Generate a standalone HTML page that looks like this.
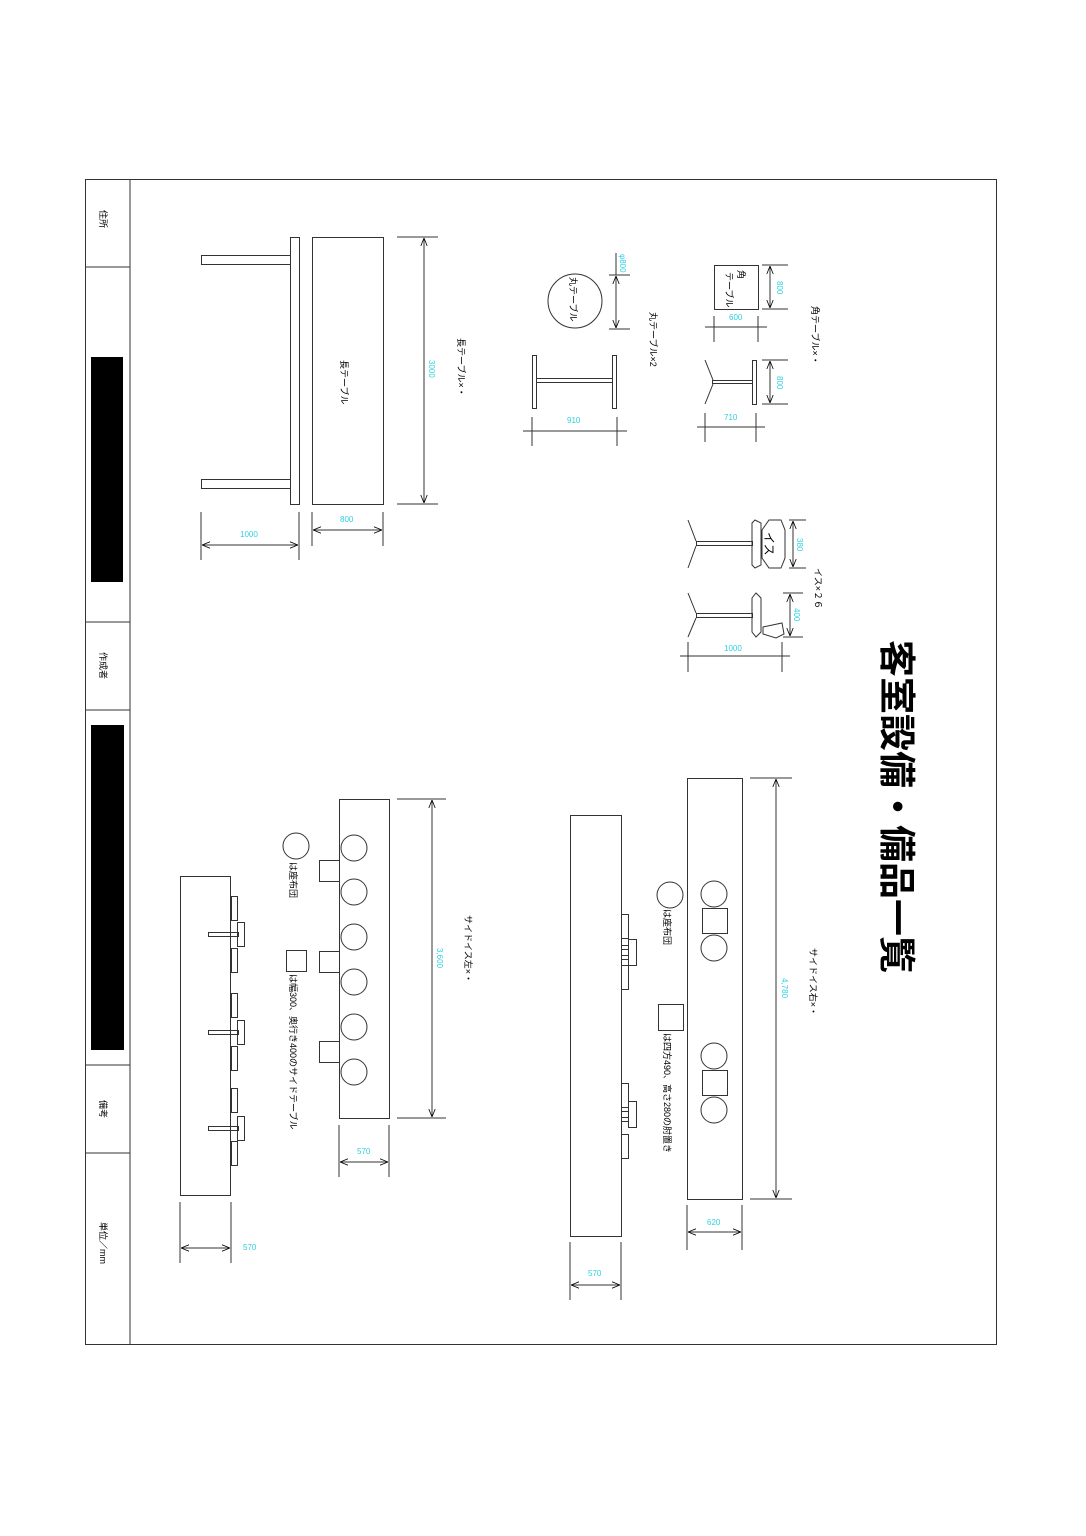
<!DOCTYPE html>
<html><head><meta charset="utf-8"><style>
html,body{margin:0;padding:0;background:#fff}
svg{display:block}
text{font-family:"Liberation Sans","Noto Sans CJK JP",sans-serif}
.c{fill:#2fd0e0;font-size:8px}
.t{fill:#000;font-size:9px}
</style></head><body>
<svg width="1086" height="1536" viewBox="0 0 1086 1536" xmlns="http://www.w3.org/2000/svg">
<defs>
<marker id="a" viewBox="0 0 10 10" refX="10" refY="5" markerWidth="8" markerHeight="8" orient="auto-start-reverse"><path d="M0,1 L10,5 L0,9" fill="none" stroke="#000" stroke-width="1"/></marker>
</defs>
<g fill="none" stroke="#333" stroke-width="1">
<rect x="85.5" y="179.5" width="911" height="1165"/>
<line x1="130" y1="179" x2="130" y2="1345"/>
<line x1="85" y1="267" x2="130" y2="267"/>
<line x1="85" y1="622" x2="130" y2="622"/>
<line x1="85" y1="710" x2="130" y2="710"/>
<line x1="85" y1="1065" x2="130" y2="1065"/>
<line x1="85" y1="1153" x2="130" y2="1153"/>
</g>
<rect x="91" y="357" width="32" height="225" fill="#000"/>
<rect x="91" y="725" width="33" height="325" fill="#000"/>
<g class="t">
<text transform="translate(100,210) rotate(90)">住所</text>
<text transform="translate(100,652) rotate(90)">作成者</text>
<text transform="translate(100,1100) rotate(90)">備考</text>
<text transform="translate(100,1222) rotate(90)">単位／mm</text>
</g>
<text transform="translate(884,640) rotate(90)" font-size="37" font-weight="bold" fill="#000">客室設備・備品一覧</text>

<g fill="none" stroke="#333" stroke-width="1">
<!-- long table -->
<rect x="201.5" y="255.5" width="89" height="9"/>
<rect x="201.5" y="479.5" width="89" height="9"/>
<rect x="290.5" y="237.5" width="9" height="267"/>
<rect x="312.5" y="237.5" width="71" height="267"/>
<line x1="397" y1="237" x2="438" y2="237"/><line x1="397" y1="504" x2="438" y2="504"/>
<line x1="424" y1="238" x2="424" y2="503" marker-start="url(#a)" marker-end="url(#a)"/>
<line x1="201" y1="512" x2="201" y2="560"/><line x1="299" y1="512" x2="299" y2="560"/>
<line x1="202" y1="545" x2="298" y2="545" marker-start="url(#a)" marker-end="url(#a)"/>
<line x1="312" y1="512" x2="312" y2="546"/><line x1="383" y1="512" x2="383" y2="546"/>
<line x1="313" y1="530" x2="382" y2="530" marker-start="url(#a)" marker-end="url(#a)"/>
<!-- round table -->
<circle cx="575" cy="301" r="27"/>
<line x1="609" y1="275" x2="630" y2="275"/><line x1="609" y1="329" x2="630" y2="329"/>
<line x1="616" y1="253" x2="616" y2="275"/>
<line x1="616" y1="276" x2="616" y2="328" marker-start="url(#a)" marker-end="url(#a)"/>
<rect x="532.5" y="355.5" width="4" height="53"/>
<rect x="612.5" y="355.5" width="4" height="53"/>
<rect x="536.5" y="378.5" width="76" height="4"/>
<line x1="532" y1="417" x2="532" y2="446"/><line x1="617" y1="417" x2="617" y2="446"/>
<line x1="523" y1="431" x2="627" y2="431"/>
<!-- square table -->
<rect x="714.5" y="265.5" width="44" height="44"/>
<line x1="762" y1="265" x2="788" y2="265"/><line x1="762" y1="309" x2="788" y2="309"/>
<line x1="770" y1="266" x2="770" y2="308" marker-start="url(#a)" marker-end="url(#a)"/>
<line x1="714" y1="316" x2="714" y2="342"/><line x1="758" y1="316" x2="758" y2="342"/>
<line x1="705" y1="327" x2="767" y2="327"/>
<rect x="752.5" y="360.5" width="4" height="44"/>
<rect x="712.5" y="380.5" width="40" height="3"/>
<path d="M705,360 L713,380 M713,384 L705,404"/>
<line x1="762" y1="360" x2="788" y2="360"/><line x1="762" y1="404" x2="788" y2="404"/>
<line x1="770" y1="361" x2="770" y2="403" marker-start="url(#a)" marker-end="url(#a)"/>
<line x1="705" y1="413" x2="705" y2="442"/><line x1="756" y1="413" x2="756" y2="442"/>
<line x1="697" y1="427" x2="765" y2="427"/>
<!-- chairs -->
<path d="M688,520 L696,541 M696,546 L688,568"/>
<rect x="696.5" y="541.5" width="56" height="4"/>
<path d="M755,520 L761,523 L761,565 L755,568 L752,565 L752,523 Z"/>
<path d="M769,520 L781,520 L785,530 L785,558 L781,568 L769,568 L762,558 L762,530 Z"/>
<line x1="789" y1="520" x2="806" y2="520"/><line x1="789" y1="568" x2="806" y2="568"/>
<line x1="793" y1="521" x2="793" y2="567" marker-start="url(#a)" marker-end="url(#a)"/>
<path d="M688,593 L696,613 M696,618 L688,637"/>
<rect x="696.5" y="613.5" width="56" height="4"/>
<path d="M756,593 L761,598 L761,632 L756,637 L752,632 L752,598 Z"/>
<path d="M763,627 L782,623 L784,634 L776,638 L763,634 Z"/>
<line x1="783" y1="593" x2="803" y2="593"/><line x1="783" y1="637" x2="803" y2="637"/>
<line x1="790" y1="594" x2="790" y2="636" marker-start="url(#a)" marker-end="url(#a)"/>
<line x1="688" y1="642" x2="688" y2="672"/><line x1="782" y1="642" x2="782" y2="672"/>
<line x1="680" y1="656" x2="790" y2="656"/>
<!-- left side -->
<rect x="339.5" y="799.5" width="50" height="319"/>
<circle cx="354" cy="848" r="13"/><circle cx="354" cy="892" r="13"/><circle cx="354" cy="937" r="13"/>
<circle cx="354" cy="982" r="13"/><circle cx="354" cy="1027" r="13"/><circle cx="354" cy="1072" r="13"/>
<rect x="319.5" y="860.5" width="20" height="21"/><rect x="319.5" y="951.5" width="20" height="21"/><rect x="319.5" y="1041.5" width="20" height="21"/>
<line x1="397" y1="799" x2="446" y2="799"/><line x1="397" y1="1118" x2="446" y2="1118"/>
<line x1="432" y1="800" x2="432" y2="1117" marker-start="url(#a)" marker-end="url(#a)"/>
<line x1="339" y1="1125" x2="339" y2="1177"/><line x1="389" y1="1125" x2="389" y2="1177"/>
<line x1="340" y1="1162" x2="388" y2="1162" marker-start="url(#a)" marker-end="url(#a)"/>
<circle cx="296" cy="846" r="13"/>
<rect x="286.5" y="950.5" width="20" height="21"/>
<rect x="180.5" y="876.5" width="50" height="319"/>
<rect x="231.5" y="896.5" width="6" height="24"/><rect x="231.5" y="948.5" width="6" height="24"/>
<rect x="231.5" y="993.5" width="6" height="24"/><rect x="231.5" y="1046.5" width="6" height="24"/>
<rect x="231.5" y="1088.5" width="6" height="24"/><rect x="231.5" y="1141.5" width="6" height="24"/>
<rect x="237.5" y="922.5" width="7" height="24"/><rect x="237.5" y="1020.5" width="7" height="24"/><rect x="237.5" y="1116.5" width="7" height="24"/>
<rect x="208.5" y="932.5" width="30" height="4"/><rect x="208.5" y="1030.5" width="30" height="4"/><rect x="208.5" y="1126.5" width="30" height="4"/>
<line x1="180" y1="1202" x2="180" y2="1263"/><line x1="231" y1="1202" x2="231" y2="1263"/>
<line x1="181" y1="1248" x2="230" y2="1248" marker-start="url(#a)" marker-end="url(#a)"/>
<!-- right side -->
<rect x="687.5" y="778.5" width="55" height="421"/>
<circle cx="714" cy="894" r="13"/><circle cx="714" cy="948" r="13"/><circle cx="714" cy="1056" r="13"/><circle cx="714" cy="1110" r="13"/>
<rect x="702.5" y="908.5" width="25" height="25"/><rect x="702.5" y="1070.5" width="25" height="25"/>
<line x1="750" y1="778" x2="792" y2="778"/><line x1="750" y1="1199" x2="792" y2="1199"/>
<line x1="776" y1="779" x2="776" y2="1198" marker-start="url(#a)" marker-end="url(#a)"/>
<line x1="687" y1="1205" x2="687" y2="1250"/><line x1="742" y1="1205" x2="742" y2="1250"/>
<line x1="688" y1="1232" x2="741" y2="1232" marker-start="url(#a)" marker-end="url(#a)"/>
<circle cx="670" cy="895" r="13"/>
<rect x="658.5" y="1004.5" width="25" height="26"/>
<rect x="570.5" y="815.5" width="51" height="421"/>
<rect x="621.5" y="914.5" width="7" height="24"/><rect x="621.5" y="965.5" width="7" height="24"/>
<rect x="621.5" y="1083.5" width="7" height="24"/><rect x="621.5" y="1134.5" width="7" height="24"/>
<rect x="628.5" y="939.5" width="8" height="26"/><rect x="628.5" y="1101.5" width="8" height="26"/>
<rect x="621.5" y="945.5" width="7" height="4"/><rect x="621.5" y="955.5" width="7" height="4"/>
<rect x="621.5" y="1107.5" width="7" height="4"/><rect x="621.5" y="1117.5" width="7" height="4"/>
<line x1="570" y1="1242" x2="570" y2="1300"/><line x1="621" y1="1242" x2="621" y2="1300"/>
<line x1="571" y1="1285" x2="620" y2="1285" marker-start="url(#a)" marker-end="url(#a)"/>
</g>

<g class="c">
<text transform="translate(429,360) rotate(90)">3000</text>
<text x="240" y="537">1000</text>
<text x="340" y="522">800</text>
<text transform="translate(620,254) rotate(90)">φ800</text>
<text x="567" y="423">910</text>
<text x="729" y="320">600</text>
<text transform="translate(777,281) rotate(90)">800</text>
<text transform="translate(777,376) rotate(90)">800</text>
<text x="724" y="420">710</text>
<text transform="translate(797,538) rotate(90)">380</text>
<text transform="translate(794,608) rotate(90)">400</text>
<text x="724" y="651">1000</text>
<text transform="translate(437,948) rotate(90)">3,600</text>
<text x="357" y="1154">570</text>
<text x="243" y="1250">570</text>
<text transform="translate(782,978) rotate(90)">4,780</text>
<text x="707" y="1225">620</text>
<text x="588" y="1276">570</text>
</g>
<g class="t">
<text transform="translate(458,338) rotate(90)">長テーブル×・</text>
<text transform="translate(341,360) rotate(90)">長テーブル</text>
<text transform="translate(570,277) rotate(90)">丸テーブル</text>
<text transform="translate(650,312) rotate(90)">丸テーブル×2</text>
<text transform="translate(738,270) rotate(90)">角</text>
<text transform="translate(726,272) rotate(90)">テーブル</text>
<text transform="translate(812,306) rotate(90)">角テーブル×・</text>
<text transform="translate(765,532) rotate(90)" font-size="12">イス</text>
<text transform="translate(815,568) rotate(90)">イス×２６</text>
<text transform="translate(465,915) rotate(90)">サイドイス左×・</text>
<text transform="translate(290,862) rotate(90)">は座布団</text>
<text transform="translate(290,974) rotate(90)">は幅300、奥行き400のサイドテーブル</text>
<text transform="translate(810,948) rotate(90)">サイドイス右×・</text>
<text transform="translate(664,909) rotate(90)">は座布団</text>
<text transform="translate(664,1033) rotate(90)">は四方490、高さ280の肘置き</text>
</g>
</svg>
</body></html>
